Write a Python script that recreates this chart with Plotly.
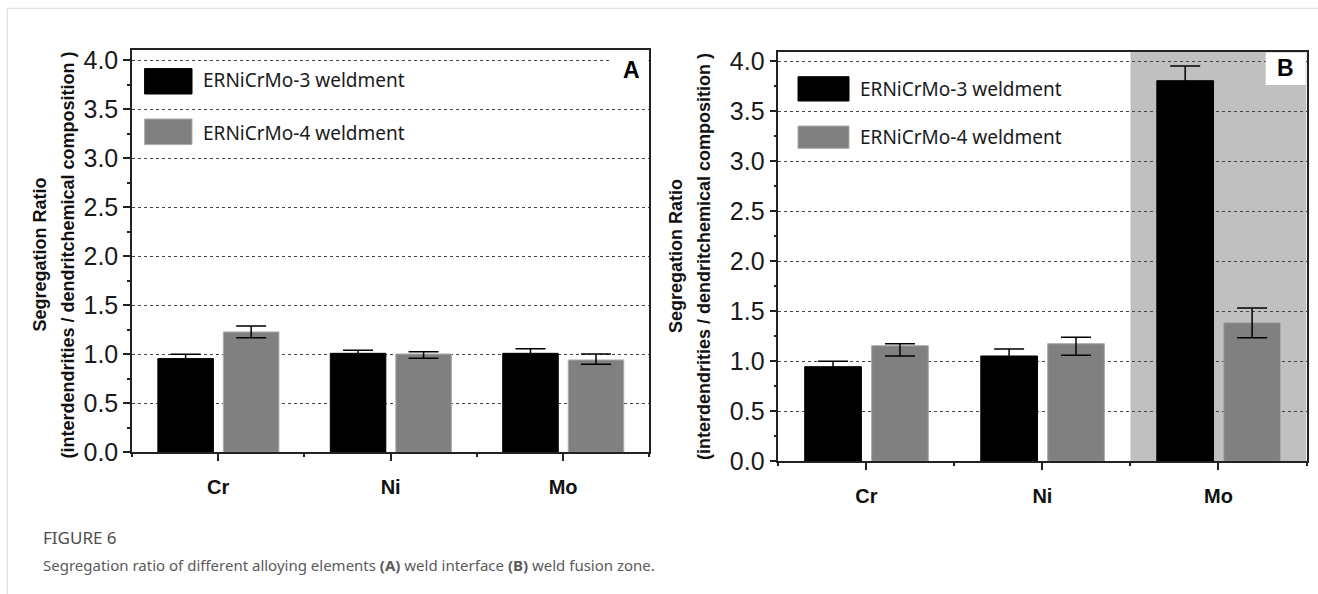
import plotly.graph_objects as go

W, H = 1318, 594

# ---------------- data ----------------
categories = ["Cr", "Ni", "Mo"]
series_names = ["ERNiCrMo-3 weldment", "ERNiCrMo-4 weldment"]
y_tick_values = [0.0, 0.5, 1.0, 1.5, 2.0, 2.5, 3.0, 3.5, 4.0]

# Panel A - weld interface
a_mo3 = [0.956, 1.010, 1.010]
a_mo3_err = [0.044, 0.030, 0.047]
a_mo4 = [1.228, 1.003, 0.942]
a_mo4_err_plus = [0.060, 0.024, 0.061]
a_mo4_err_minus = [0.058, 0.043, 0.044]

# Panel B - weld fusion zone
b_mo3 = [0.946, 1.053, 3.806]
b_mo3_err = [0.054, 0.070, 0.147]
b_mo4 = [1.156, 1.176, 1.386]
b_mo4_err_plus = [0.020, 0.064, 0.147]
b_mo4_err_minus = [0.103, 0.116, 0.150]

highlight_category = "Mo"   # shaded in panel B

# ---------------- helpers ----------------
def px(x):
    return x / W

def py(y):
    return 1 - y / H

pos = list(range(1, len(categories) + 1))
BAR_W = 0.322
OFFSETS = [-0.35, 0.03]
FILL = ["#000000", "#808080"]
EDGE = ["#000000", "#a9a9a9"]

fig = go.Figure()

def add_panel(xa, ya, s1, e1, s2, e2p, e2m):
    fig.add_trace(go.Bar(
        x=pos, y=s1, name=series_names[0], xaxis=xa, yaxis=ya,
        width=BAR_W, offset=OFFSETS[0],
        marker=dict(color=FILL[0], line=dict(color=EDGE[0], width=1)),
        error_y=dict(type="data", array=e1, visible=True, color="#000",
                     thickness=1.5, width=15),
        showlegend=False))
    fig.add_trace(go.Bar(
        x=pos, y=s2, name=series_names[1], xaxis=xa, yaxis=ya,
        width=BAR_W, offset=OFFSETS[1],
        marker=dict(color=FILL[1], line=dict(color=EDGE[1], width=1)),
        error_y=dict(type="data", symmetric=False, array=e2p, arrayminus=e2m,
                     visible=True, color="#000", thickness=1.5, width=15),
        showlegend=False))

add_panel("x", "y", a_mo3, a_mo3_err, a_mo4, a_mo4_err_plus, a_mo4_err_minus)
add_panel("x2", "y2", b_mo3, b_mo3_err, b_mo4, b_mo4_err_plus, b_mo4_err_minus)

# ---------------- axes ----------------
cat_font = dict(family="Liberation Sans Narrow, Arial Narrow, Arial, Liberation Sans",
                size=20, color="#111", weight="bold")
tick_font = dict(family="Arial, Liberation Sans", size=25, color="#1a1a1a")

def xaxis_cfg(domain):
    return dict(
        domain=domain, range=[0.5, len(categories) + 0.5],
        tickmode="array", tickvals=pos, ticktext=categories,
        ticks="outside", ticklen=7, tickwidth=1.5, tickcolor="#222",
        showline=True, linecolor="#222", linewidth=1.5, mirror=True,
        showgrid=False, zeroline=False, tickfont=cat_font,
        ticklabelstandoff=9,
        minor=dict(tickmode="array", tickvals=[p - 0.5 for p in pos] + [pos[-1] + 0.5],
                   ticks="outside", ticklen=3, tickwidth=1.5, tickcolor="#222",
                   showgrid=False),
        fixedrange=True)

def yaxis_cfg(domain, top, anchor):
    return dict(
        domain=domain, range=[0, top], anchor=anchor,
        tickmode="array", tickvals=y_tick_values,
        ticktext=[f"{v:.1f}" for v in y_tick_values],
        ticks="outside", ticklen=7, tickwidth=1.5, tickcolor="#222",
        showline=True, linecolor="#222", linewidth=1.5, mirror=True,
        showgrid=True, gridcolor="#444", griddash="dot", gridwidth=1,
        zeroline=False, tickfont=tick_font,
        minor=dict(dtick=0.25, tick0=0, ticks="outside", ticklen=3,
                   tickwidth=1.5, tickcolor="#222", showgrid=False),
        fixedrange=True)

A_X = [132, 649.3]
A_Y = [49.5, 452.3]
B_X = [778.3, 1306.5]
B_Y = [51.7, 461.3]

fig.update_layout(
    xaxis=dict(xaxis_cfg([px(A_X[0]), px(A_X[1])]), anchor="y"),
    yaxis=yaxis_cfg([py(A_Y[1]), py(A_Y[0])], 4.11, "x"),
    xaxis2=dict(xaxis_cfg([px(B_X[0]), px(B_X[1])]), anchor="y2"),
    yaxis2=yaxis_cfg([py(B_Y[1]), py(B_Y[0])], 4.096, "x2"),
)

shapes = []
annotations = []

hi = pos[categories.index(highlight_category)]
shapes.append(dict(type="rect", xref="x2", yref="y2 domain",
                   x0=hi - 0.5, x1=hi + 0.5, y0=0, y1=1,
                   fillcolor="#c0c0c0", line=dict(width=0), layer="below"))

def panel_label(text, box, center):
    shapes.append(dict(type="rect", xref="paper", yref="paper",
                       x0=px(box[0]), x1=px(box[1]), y0=py(box[3]), y1=py(box[2]),
                       fillcolor="white", line=dict(width=0), layer="above"))
    annotations.append(dict(text=f"<b>{text}</b>", x=px(center[0]), y=py(center[1]),
                            xref="paper", yref="paper", showarrow=False,
                            xanchor="center", yanchor="middle",
                            font=dict(family="Arial, Liberation Sans", size=23, color="#000")))

panel_label("A", [611, 648.5, 50.3, 83], [631, 69.5])
panel_label("B", [1265.7, 1305.7, 52.5, 85], [1285.5, 67.5])

leg_font = dict(family="Noto Sans, Open Sans, sans-serif", size=19, color="#1a1a1a")

def legend(patch_x, patch_ys, text_x, text_ys):
    for i, name in enumerate(series_names):
        shapes.append(dict(type="rect", xref="paper", yref="paper",
                           x0=px(patch_x[0]), x1=px(patch_x[1]),
                           y0=py(patch_ys[i][1]), y1=py(patch_ys[i][0]),
                           fillcolor=FILL[i], line=dict(color=EDGE[i], width=1),
                           layer="above"))
        annotations.append(dict(text=name, x=px(text_x), y=py(text_ys[i]),
                                xref="paper", yref="paper", showarrow=False,
                                xanchor="left", yanchor="middle", font=leg_font))

legend([144.6, 192], [[68.6, 94], [119, 144.6]], 201, [80.5, 133.5])
legend([798, 849], [[76.7, 101], [126, 148.3]], 858, [88.5, 137.3])

title_font = dict(family="Arial, Liberation Sans", size=18, color="#111")
title_lines = ["<b>Segregation Ratio</b>",
               "<b>(interdendrities / dendritchemical composition )</b>"]
for xs, yc in [([39.5, 67.5], 255), ([675.5, 703.5], 256.5)]:
    for t, xx in zip(title_lines, xs):
        annotations.append(dict(text=t, x=px(xx), y=py(yc), xref="paper", yref="paper",
                                showarrow=False, textangle=-90,
                                xanchor="center", yanchor="middle", font=title_font))

annotations.append(dict(text="FIGURE 6", x=px(41), y=py(537), xref="paper", yref="paper",
                        showarrow=False, xanchor="left", yanchor="middle",
                        font=dict(family="Noto Sans, Open Sans, sans-serif", size=17,
                                  color="#4d4d4d")))
annotations.append(dict(
    text="Segregation ratio of different alloying elements <b>(A)</b> weld interface "
         "<b>(B)</b> weld fusion zone.",
    x=px(41), y=py(565), xref="paper", yref="paper", showarrow=False,
    xanchor="left", yanchor="middle",
    font=dict(family="Noto Sans, Open Sans, sans-serif", size=15, color="#5a5a5a")))

shapes.append(dict(type="line", xref="paper", yref="paper",
                   x0=px(7.3), x1=1, y0=py(8.3), y1=py(8.3),
                   line=dict(color="#d6d6d6", width=1)))
shapes.append(dict(type="line", xref="paper", yref="paper",
                   x0=px(7.3), x1=px(7.3), y0=py(8.3), y1=0,
                   line=dict(color="#d6d6d6", width=1)))

fig.update_layout(
    width=W, height=H, autosize=False,
    margin=dict(l=0, r=0, t=0, b=0, autoexpand=False),
    paper_bgcolor="white", plot_bgcolor="white",
    barmode="overlay", showlegend=False,
    shapes=shapes, annotations=annotations,
)

fig.write_html("out.html", include_plotlyjs=True,
               config={"displayModeBar": False, "responsive": False})
